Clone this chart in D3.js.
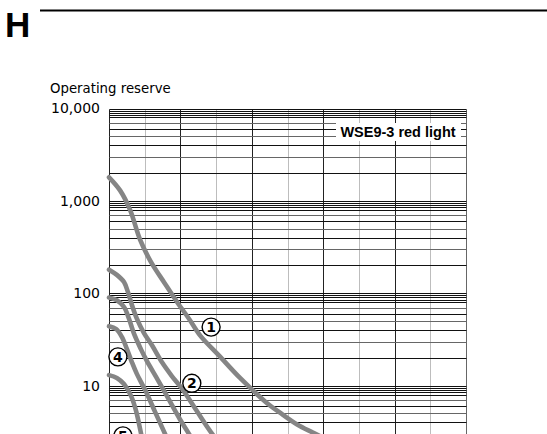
<!DOCTYPE html>
<html>
<head>
<meta charset="utf-8">
<script src="https://cdn.jsdelivr.net/npm/d3@7"></script>
<style>
  body { margin: 0; background: #fff; }
  svg { display: block; }
  text { font-family: "DejaVu Sans", sans-serif; }
</style>
</head>
<body>
<svg width="547" height="434"></svg>
<script>
// operating reserve curves, [distance (grid units), reserve]
var curve1 = [[0, 1800], [0.31, 1300], [0.59, 800], [0.87, 380], [1.17, 220], [1.55, 130], [1.91, 80], [2.24, 53], [2.55, 35], [3.11, 20.6], [3.67, 12.1], [4.42, 6.5], [4.79, 5.1], [5.27, 3.8], [5.71, 3.1], [6.61, 2.1]];
var curve2 = [[0, 180], [0.22, 158], [0.42, 132], [0.53, 103], [0.64, 75], [0.78, 53], [0.98, 37], [1.2, 27.5], [1.48, 18], [1.76, 12.7], [2.07, 9], [2.46, 5.3], [2.89, 3], [3.28, 2]];
var curve3 = [[0, 90], [0.22, 84], [0.42, 71], [0.56, 53], [0.7, 36.5], [0.89, 25], [1.06, 18.5], [1.37, 11.5], [1.71, 6.7], [1.99, 4.3], [2.24, 3], [2.5, 2]];
var curve4 = [[0, 44], [0.2, 41], [0.36, 33.7], [0.5, 25], [0.64, 18], [0.78, 13.4], [1.01, 9], [1.29, 5.2], [1.57, 3], [1.77, 2]];
var curve5 = [[0, 13], [0.22, 12.1], [0.42, 10.4], [0.62, 7.7], [0.76, 5.3], [0.9, 3], [1.0, 2]];

var curveLabels = ["1", "2", "4", "5"];
var labelSpots = [[2.86, 43], [2.32, 10.6], [0.25, 20.5], [0.39, 2.86]];

var yTicks = [10, 100, 1000, 10000];
var decades = [1, 10, 100, 1000];
var gridSteps = [1, 2, 3, 4, 5, 6, 7, 8, 8.5, 9, 9.5];
var xSteps = d3.range(0, 11);

var svg = d3.select("svg");

var x = d3.scaleLinear().domain([0, 10]).range([109, 466]);
var y = d3.scaleLog().domain([1, 10000]).range([478, 108.5]);

// header
svg.append("text")
    .attr("x", 5).attr("y", 37)
    .style("font-family", "Liberation Sans, Arial, sans-serif")
    .style("font-weight", "bold")
    .style("font-size", "35px")
    .text("H");
svg.append("line")
    .attr("x1", 40).attr("x2", 547)
    .attr("y1", 10.5).attr("y2", 10.5)
    .attr("stroke", "#000").attr("stroke-width", 2);

svg.append("text")
    .attr("x", 50).attr("y", 93)
    .style("font-size", "13.3px")
    .text("Operating reserve");

// grid
var hVals = [];
decades.forEach(function(d) {
  gridSteps.forEach(function(m) { hVals.push(d * m); });
});
hVals.push(10000);

var grid = svg.append("g");
grid.selectAll("line.v")
  .data(xSteps)
  .enter().append("line")
    .attr("class", "v")
    .attr("x1", function(d) { return Math.round(x(d)) + 0.5; })
    .attr("x2", function(d) { return Math.round(x(d)) + 0.5; })
    .attr("y1", Math.round(y(10000)) + 0.5).attr("y2", 434)
    .attr("stroke", function(d) { return d % 2 ? "#bdbdbd" : (d == 10 ? "#666" : "#222"); })
    .attr("stroke-width", 1);

grid.selectAll("line.h")
  .data(hVals)
  .enter().append("line")
    .attr("class", "h")
    .attr("x1", Math.round(x(0)) + 0.5).attr("x2", Math.round(x(10)) + 0.5)
    .attr("y1", function(d) { return Math.round(y(d)) + 0.5; })
    .attr("y2", function(d) { return Math.round(y(d)) + 0.5; })
    .attr("stroke", function(d) { var m = d / Math.pow(10, Math.floor(Math.log10(d) + 1e-9)); return (m == 3 || m == 5 || m == 7) ? "#666" : "#111"; })
    .attr("stroke-width", 1);

// y axis labels
var yAxis = d3.axisLeft(y)
    .tickValues(yTicks)
    .tickFormat(d3.format(","))
    .tickSize(0)
    .tickPadding(9);
var ax = svg.append("g")
    .attr("transform", "translate(" + x(0) + ",0)")
    .call(yAxis);
ax.select(".domain").remove();
ax.selectAll("text")
    .style("font-family", "DejaVu Sans, sans-serif")
    .style("font-size", "14px")
    .attr("fill", "#000");

// legend box
var box = svg.append("g");
box.append("rect")
    .attr("x", 336).attr("y", 123)
    .attr("width", 125).attr("height", 18)
    .attr("fill", "#fff");
box.append("text")
    .attr("x", 398).attr("y", 137)
    .attr("text-anchor", "middle")
    .style("font-family", "Liberation Sans, Arial, sans-serif")
    .style("font-weight", "bold")
    .style("font-size", "14.5px")
    .text("WSE9-3 red light");

// curves
var line = d3.line()
    .x(function(d) { return x(d[0]); })
    .y(function(d) { return y(d[1]); })
    .curve(d3.curveCatmullRom.alpha(0.5));

svg.append("g").selectAll("path")
  .data([curve1, curve2, curve3, curve4, curve5])
  .enter().append("path")
    .attr("d", line)
    .attr("fill", "none")
    .attr("stroke", "#858585")
    .attr("stroke-width", 4.6)
    .attr("stroke-linecap", "round")
    .attr("stroke-linejoin", "round");

// circled curve numbers
var lab = svg.append("g").selectAll("g")
  .data(curveLabels)
  .enter().append("g")
    .attr("transform", function(d, i) { return "translate(" + x(labelSpots[i][0]) + "," + y(labelSpots[i][1]) + ")"; });
lab.append("circle")
    .attr("r", 9)
    .attr("fill", "#fff")
    .attr("stroke", "#000")
    .attr("stroke-width", 1.4);
lab.append("text")
    .attr("text-anchor", "middle")
    .attr("dy", "0.37em")
    .style("font-size", "14px")
    .style("font-weight", "bold")
    .text(function(d) { return d; });
</script>
</body>
</html>
